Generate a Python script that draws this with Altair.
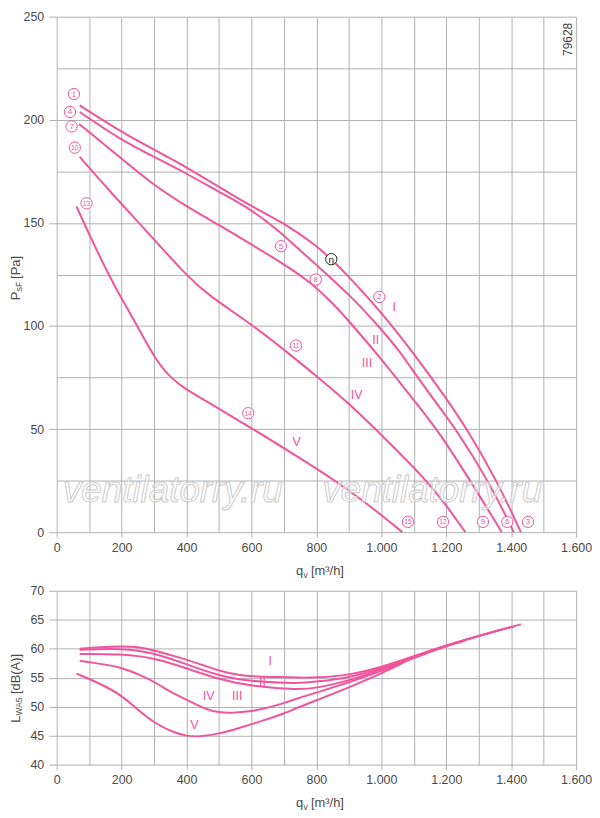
import altair as alt
import pandas as pd

PINK = "#f0559b"
GRID = "#b0b0b0"
TXT = "#4a4a4a"
FONT = "Liberation Sans"

# ---- static pressure psF [Pa] over airflow qv [m3/h], speed steps I..V ----
q_I = [71, 200, 300, 400, 500, 600, 700, 800, 846, 900, 1000, 1096, 1200, 1264, 1356, 1430]
p_I = [207, 194, 185.5, 177, 167.5, 158, 150, 139, 132.4, 124, 106.7, 87.5, 65, 50, 25, 0]
q_II = [71, 200, 300, 400, 500, 600, 683, 744, 800, 901, 1000, 1060, 1081, 1160, 1230, 1330, 1408]
p_II = [203.8, 190, 182, 174, 165, 156.5, 146.3, 137.5, 129.6, 115.4, 98.5, 87, 82, 64.5, 50, 25, 0]
q_III = [69, 163, 300, 400, 500, 600, 690, 785, 850, 900, 1000, 1100, 1172, 1274, 1371]
p_III = [198, 186, 168, 158, 149, 139.5, 131, 121, 111, 102.5, 84, 64, 50, 25, 0]
q_IV = [71, 163, 300, 400, 469, 600, 744, 800, 897, 1019, 1140, 1200, 1259]
p_IV = [182, 165.4, 142, 124.5, 114.6, 101, 83, 75.7, 63, 44.3, 25, 13, 0]
q_V = [61, 110, 163, 199, 245, 306, 357, 398, 459, 600, 744, 897, 1019, 1065]
p_V = [158, 141, 124, 113.5, 101, 83, 74, 69.3, 63.8, 50.5, 36.5, 21, 6, 0]

# ---- sound power LWA5 [dB(A)] over airflow ----
lq_I = [71, 133, 200, 255, 301, 357, 401, 459, 500, 561, 612, 694, 745, 800, 900, 1000, 1100, 1200, 1300, 1376, 1430]
lw_I = [60.0, 60.3, 60.4, 60.3, 59.7, 58.8, 58.1, 57.0, 56.2, 55.4, 55.2, 55.1, 55.0, 55.0, 55.4, 56.8, 58.7, 60.6, 62.2, 63.4, 64.2]
lq_II = [71, 200, 301, 401, 500, 602, 745, 800, 900, 1000, 1100, 1200, 1300, 1376, 1408]
lw_II = [59.8, 60.1, 59.3, 57.3, 55.3, 54.3, 54.0, 54.3, 55.0, 56.5, 58.6, 60.6, 62.2, 63.4, 63.8]
lq_III = [71, 200, 301, 401, 500, 602, 745, 800, 900, 1000, 1100, 1200, 1300, 1371]
lw_III = [59.1, 59.1, 58.4, 56.6, 54.7, 53.5, 52.9, 53.2, 54.5, 56.3, 58.5, 60.6, 62.2, 63.3]
lq_IV = [71, 133, 200, 255, 301, 357, 401, 459, 500, 541, 600, 650, 700, 745, 800, 900, 1000, 1100, 1200, 1259]
lw_IV = [57.9, 57.4, 56.8, 55.5, 54.3, 52.3, 51.2, 49.5, 49.0, 48.9, 49.2, 49.8, 50.6, 51.5, 52.4, 54.2, 56.1, 58.4, 60.5, 61.4]
lq_V = [61, 133, 200, 255, 301, 357, 401, 439, 500, 561, 643, 704, 745, 800, 900, 1000, 1065]
lw_V = [55.7, 54.0, 52.0, 49.2, 47.2, 45.6, 44.9, 44.8, 45.3, 46.3, 47.7, 48.9, 49.9, 51.1, 53.3, 55.7, 57.5]

# ---- annotations ----
circ_txt = ["1", "4", "7", "10", "13", "5", "η", "2", "8", "11", "14", "15", "12", "9", "6", "3"]
circ_q = [53, 41, 46, 56, 92, 691, 846, 994, 798, 737, 590, 1082, 1190, 1313, 1388, 1452]
circ_p = [212.5, 203.8, 196.8, 186.5, 159.5, 138.7, 132.4, 114.1, 122.5, 90.5, 57.7, 5, 5, 5, 5, 5]

roman = ["I", "II", "III", "IV", "V"]
roman_q_top = [1040, 983, 956, 924, 739]
roman_p_top = [109, 93.1, 82, 66.5, 43.5]
roman_q_bot = [658, 634, 556, 468, 424]
roman_l_bot = [57.9, 54.3, 51.8, 51.8, 46.9]

wm_q = [358, 1157]
wm_p = [20, 20]

x_ticks = list(range(0, 1601, 100))
y_ticks_top = list(range(0, 251, 25))
y_ticks_bot = list(range(40, 71, 5))

W, H1, H2 = 523, 519, 175


def curves_frame(items):
    rows = []
    for name, qs, vs in items:
        for q, v in zip(qs, vs):
            rows.append({"curve": name, "q": q, "v": v})
    return pd.DataFrame(rows)


press = curves_frame([("I", q_I, p_I), ("II", q_II, p_II), ("III", q_III, p_III),
                      ("IV", q_IV, p_IV), ("V", q_V, p_V)])
sound = curves_frame([("I", lq_I, lw_I), ("II", lq_II, lw_II), ("III", lq_III, lw_III),
                      ("IV", lq_IV, lw_IV), ("V", lq_V, lw_V)])

circ = pd.DataFrame({
    "t": circ_txt, "q": circ_q, "v": circ_p,
    "col": ["#222222" if t == "η" else PINK for t in circ_txt],
    "fs": [10 if t == "η" else (6.8 if len(t) > 1 else 8) for t in circ_txt],
})
rom_top = pd.DataFrame({"t": roman, "q": roman_q_top, "v": roman_p_top})
rom_bot = pd.DataFrame({"t": roman, "q": roman_q_bot, "v": roman_l_bot})
wm = pd.DataFrame({"t": ["ventilatorry.ru"] * 2, "q": wm_q, "v": wm_p})


def tick_cond(step):
    return {"condition": {"test": f"datum.value % {step} == 0", "value": 1}, "value": 0}


x_axis = alt.Axis(
    values=x_ticks, title=None, grid=True, gridColor=GRID, gridWidth=1, domain=False,
    tickColor=GRID, tickSize=5, tickOpacity=tick_cond(200),
    labelExpr="datum.value % 200 == 0 ? replace(format(datum.value, ','), ',', '.') : ''",
    labelColor=TXT, labelFont=FONT, labelFontSize=12.5, labelPadding=4,
    labelFlush=False, labelOverlap=False,
)
X = alt.X("q:Q", scale=alt.Scale(domain=[0, 1600], nice=False, zero=False), axis=x_axis)


def y_axis(vals, step):
    return alt.Axis(
        values=vals, title=None, grid=True, gridColor=GRID, gridWidth=1, domain=False,
        tickColor=GRID, tickSize=8, tickOpacity=tick_cond(step),
        labelExpr=f"datum.value % {step} == 0 ? datum.label : ''",
        labelColor=TXT, labelFont=FONT, labelFontSize=12.5, labelPadding=5,
        labelFlush=False, labelOverlap=False,
    )


Y_top = alt.Y("v:Q", scale=alt.Scale(domain=[0, 250], nice=False, zero=False),
              axis=y_axis(y_ticks_top, 50))
Y_bot = alt.Y("v:Q", scale=alt.Scale(domain=[40, 70], nice=False, zero=False),
              axis=y_axis(y_ticks_bot, 5))


def label(txt, px, py, size=13, angle=0, color=TXT):
    return alt.Chart(pd.DataFrame({"t": [txt]})).mark_text(
        font=FONT, fontSize=size, angle=angle, align="left", baseline="middle", color=color
    ).encode(x=alt.value(px), y=alt.value(py), text="t:N")


def x_title(h):
    y = h + 39
    return [label("q", 241, y), label("v", 248.4, y + 4, size=8.5), label("[m³/h]", 256, y)]


# ---------------- top panel ----------------
watermark = alt.Chart(wm).mark_text(
    font=FONT, fontStyle="italic", fontSize=37, fill="#ffffff", fillOpacity=0.5,
    stroke="#cccccc", strokeWidth=1
).encode(x=X, y=Y_top, text="t:N")

p_lines = alt.Chart(press).mark_line(
    color=PINK, strokeWidth=2, interpolate="basis"
).encode(x=X, y=Y_top, detail="curve:N")

c_dots = alt.Chart(circ).mark_point(
    shape="circle", size=130, fill="white", fillOpacity=1, strokeWidth=1, opacity=1
).encode(x=X, y=Y_top, stroke=alt.Stroke("col:N", scale=None))

c_txt = alt.Chart(circ).mark_text(font=FONT, baseline="middle", dy=0.5).encode(
    x=X, y=Y_top, text="t:N", color=alt.Color("col:N", scale=None),
    size=alt.Size("fs:Q", scale=None)
)

r_top = alt.Chart(rom_top).mark_text(font=FONT, fontSize=12.5, color=PINK).encode(
    x=X, y=Y_top, text="t:N"
)

code = alt.Chart(pd.DataFrame({"t": ["79628"], "q": [1575], "v": [239]})).mark_text(
    font=FONT, fontSize=12, angle=270, color="#444444"
).encode(x=X, y=Y_top, text="t:N")

top = alt.layer(
    p_lines, watermark, c_dots, c_txt, r_top, code,
    label("P", -41, 285.5, angle=270),
    label("sF", -37.5, 276.5, size=8.5, angle=270),
    label("[Pa]", -41, 264, angle=270),
    *x_title(H1),
).properties(width=W, height=H1)

# ---------------- bottom panel ----------------
s_lines = alt.Chart(sound).mark_line(
    color=PINK, strokeWidth=2, interpolate="basis"
).encode(x=X, y=Y_bot, detail="curve:N")

r_bot = alt.Chart(rom_bot).mark_text(font=FONT, fontSize=12.5, color=PINK).encode(
    x=X, y=Y_bot, text="t:N"
)

bottom = alt.layer(
    s_lines, r_bot,
    label("L", -41, 133, angle=270),
    label("WA5", -37.5, 125.5, size=8.5, angle=270),
    label("[dB(A)]", -41, 104, angle=270),
    *x_title(H2),
).properties(width=W, height=H2)

chart = alt.vconcat(top, bottom, spacing=5).properties(
    padding={"left": 2, "top": 0, "right": 0, "bottom": 0}, background="white"
).configure_view(stroke=None)

chart.save("out.html", embed_options={"renderer": "svg", "actions": False})
